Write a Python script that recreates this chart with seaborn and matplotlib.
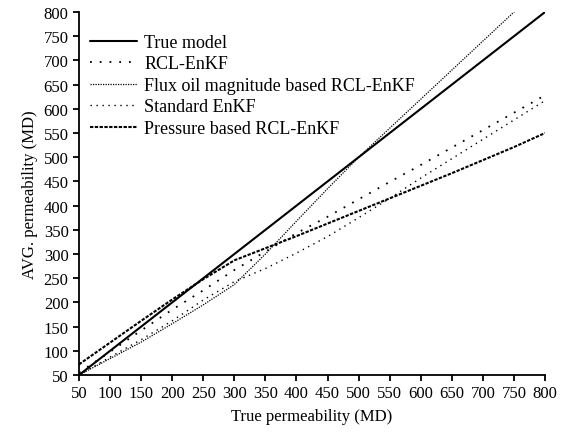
import numpy as np
import pandas as pd
import matplotlib
matplotlib.use("Agg")
import matplotlib.pyplot as plt
import seaborn as sns

# ---- data ----
x_vals = [50, 100, 150, 200, 250, 300, 350, 400, 450, 500, 550, 600, 650, 700, 750, 800]
true_model = [50, 100, 150, 200, 250, 300, 350, 400, 450, 500, 550, 600, 650, 700, 750, 800]
rcl_enkf = [55, 98, 142, 185, 225, 267, 305, 343, 377, 413, 449, 484, 520, 556, 592, 628]
flux_rcl = [50, 84, 118, 156, 195, 237, 300, 368, 435, 500, 560, 620, 680, 740, 800, 860]
standard_enkf = [50, 87, 123, 162, 205, 243, 270, 302, 336, 375, 415, 457, 497, 537, 577, 617]
pressure_rcl = [72, 117, 162, 206, 248, 287, 312, 337, 363, 389, 415, 441, 467, 494, 521, 550]

labels = ["True model", "RCL-EnKF", "Flux oil magnitude based RCL-EnKF",
          "Standard EnKF", "Pressure based RCL-EnKF"]
series = [true_model, rcl_enkf, flux_rcl, standard_enkf, pressure_rcl]
xticks = list(range(50, 801, 50))
yticks = list(range(50, 801, 50))

sns.set_theme(style="ticks")
plt.rcParams["font.family"] = ["Liberation Serif", "DejaVu Serif"]

fig = plt.figure(figsize=(5.62, 4.35), dpi=100)
ax = fig.add_axes([0.1406, 0.1356, 0.8292, 0.8344])

styles = [
    dict(linestyle="-", linewidth=1.5),
    dict(linestyle=(0, (1, 4.4)), linewidth=1.3),
    dict(linestyle=(0, (1, 1)), linewidth=0.9),
    dict(linestyle=(0, (1, 3.3)), linewidth=1.0),
    dict(linestyle=(0, (1.6, 0.7)), linewidth=1.5),
]

for lab, ys, st in zip(labels, series, styles):
    df = pd.DataFrame({"x": x_vals, "y": ys})
    sns.lineplot(data=df, x="x", y="y", ax=ax, color="black", label=lab,
                 linestyle=st["linestyle"], linewidth=st["linewidth"])

ax.set_xlim(50, 800)
ax.set_ylim(50, 800)
ax.set_xticks(xticks)
ax.set_yticks(yticks)
ax.tick_params(axis="both", direction="out", length=4.5, width=1.3,
               labelsize=12, color="black", labelcolor="black", pad=3)
ax.set_xlabel("True permeability (MD)", fontsize=12, color="black", labelpad=5)
ax.set_ylabel("AVG. permeability (MD)", fontsize=12, color="black", labelpad=4)
sns.despine(ax=ax)
for s in ["left", "bottom"]:
    ax.spines[s].set_linewidth(1.3)
    ax.spines[s].set_color("black")
ax.grid(False)

leg = ax.legend(loc="upper left", bbox_to_anchor=(0.024, 0.94), frameon=False,
                borderaxespad=0, borderpad=0, fontsize=13, handlelength=2.6,
                handletextpad=0.4, labelspacing=0.25)
for t in leg.get_texts():
    t.set_color("black")

fig.savefig("out.png", dpi=100, facecolor="white")
